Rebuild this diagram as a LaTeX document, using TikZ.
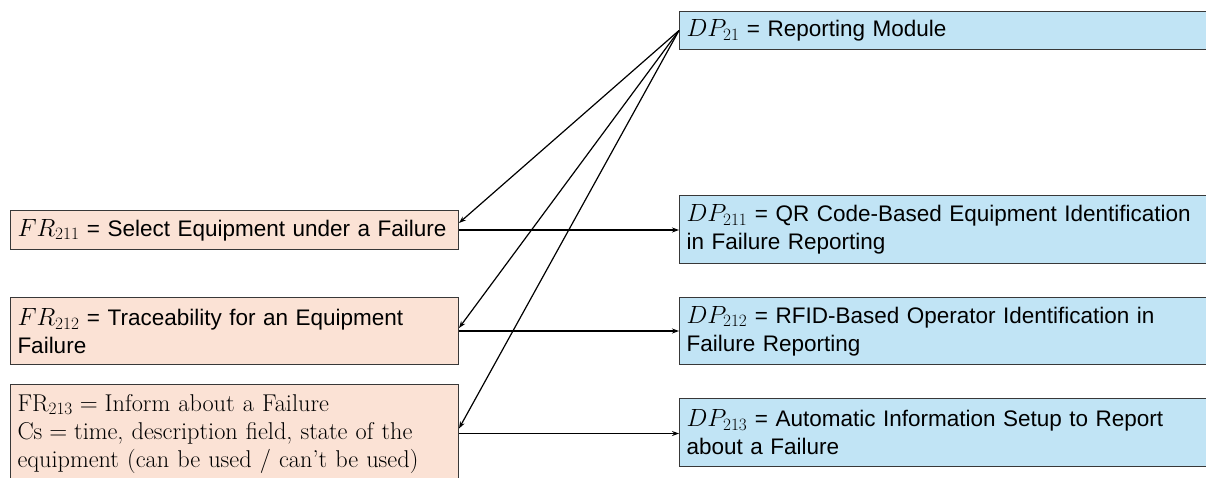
\documentclass[tikz,border=0pt]{standalone}
\usepackage{amsmath}
\usepackage{fontspec}
\usepackage{tikz}
\usetikzlibrary{arrows.meta}
\newfontfamily\aptos{Liberation Sans}
\definecolor{frpeach}{RGB}{251,226,213}
\definecolor{dpblue}{RGB}{193,228,245}
\definecolor{boxline}{RGB}{56,56,56}
% bigger math for the FR/DP symbols
\newcommand{\req}[2]{{\fontsize{24}{28}\selectfont$#1_{#2}$}}

\begin{document}
\begin{tikzpicture}[x=1pt,y=-1pt,
    box/.style={draw=boxline, line width=1pt, anchor=north west, inner xsep=7pt, inner ysep=0pt,
        align=left, font=\aptos\fontsize{22.5}{28}\selectfont},
    frbox/.style={box, fill=frpeach, text width=434pt},
    dpbox/.style={box, fill=dpblue, text width=522pt},
    link/.style={-{Stealth[length=7pt,width=5pt]}, line width=1.2pt}]
    \clip (0,0) rectangle (1206,477);

    \node[dpbox, minimum height=38pt] (dp21) at (679,11) {\req{DP}{21} = Reporting Module};
    \node[dpbox, minimum height=68pt] (dp211) at (679,195) {\req{DP}{211} = QR Code-Based Equipment Identification\\in Failure Reporting};
    \node[dpbox, minimum height=67pt] (dp212) at (679,297) {\req{DP}{212} = RFID-Based Operator Identification in\\Failure Reporting};
    \node[dpbox, minimum height=68pt] (dp213) at (679,398) {\req{DP}{213} = Automatic Information Setup to Report\\about a Failure};

    \node[frbox, minimum height=39pt] (fr211) at (10,210) {\req{FR}{211} = Select Equipment under a Failure};
    \node[frbox, minimum height=67pt] (fr212) at (10,297) {\req{FR}{212} = Traceability for an Equipment\\Failure};
    \node[frbox, minimum height=98pt, font=\rmfamily\fontsize{24.3}{28}\selectfont] (fr213) at (10,384)
        {$\mathrm{FR}_{213} = {}$Inform about a Failure\\$\mathrm{Cs} = {}$time, description field, state of the\\equipment (can be used / can’t be used)};

    % DP21 to its children
    \draw[link] (dp21.west) -- ([yshift=7pt]fr211.east);
    \draw[link] (dp21.west) -- ([yshift=3pt]fr212.east);
    \draw[link] (dp21.west) -- ([yshift=5pt]fr213.east);

    \draw[link] (fr211.east) -- (fr211.east -| dp211.west);
    \draw[link] (fr212.east) -- (fr212.east -| dp212.west);
    \draw[link] (fr213.east) -- (fr213.east -| dp213.west);
\end{tikzpicture}
\end{document}
